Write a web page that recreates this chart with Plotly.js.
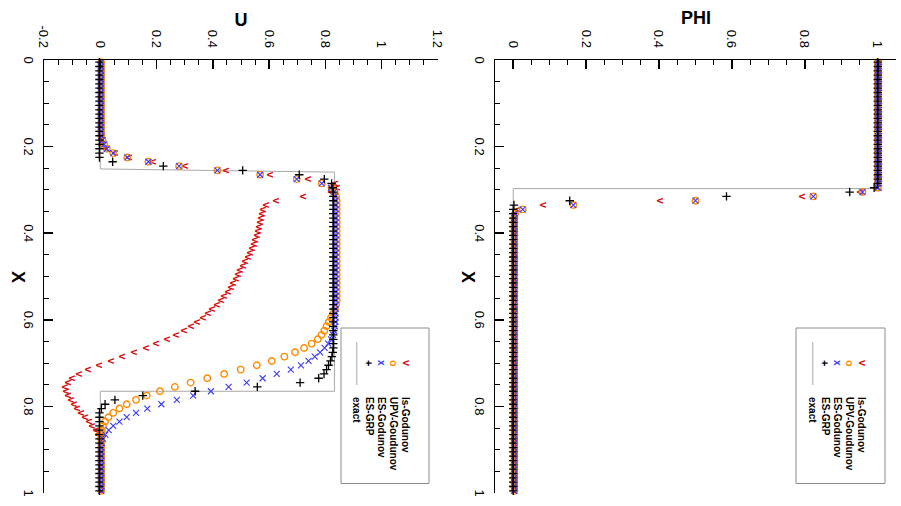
<!DOCTYPE html>
<html><head><meta charset="utf-8">
<script src="https://cdn.plot.ly/plotly-3.0.1.min.js"></script>
<style>
html,body{margin:0;padding:0;width:901px;height:506px;overflow:hidden;background:#fff;}
#wrap{position:absolute;left:0;top:0;width:506px;height:901px;transform-origin:0 0;transform:translate(901px,0) rotate(90deg);}
#chart{width:506px;height:901px;}
</style></head><body>
<div id="wrap"><div id="chart"></div></div>
<script>
// ---------- data ----------
const xCells = [0.005,0.015,0.025,0.035,0.045,0.055,0.065,0.075,0.085,0.095,
0.105,0.115,0.125,0.135,0.145,0.155,0.165,0.175,0.185,0.195,
0.205,0.215,0.225,0.235,0.245,0.255,0.265,0.275,0.285,0.295,
0.305,0.315,0.325,0.335,0.345,0.355,0.365,0.375,0.385,0.395,
0.405,0.415,0.425,0.435,0.445,0.455,0.465,0.475,0.485,0.495,
0.505,0.515,0.525,0.535,0.545,0.555,0.565,0.575,0.585,0.595,
0.605,0.615,0.625,0.635,0.645,0.655,0.665,0.675,0.685,0.695,
0.705,0.715,0.725,0.735,0.745,0.755,0.765,0.775,0.785,0.795,
0.805,0.815,0.825,0.835,0.845,0.855,0.865,0.875,0.885,0.895,
0.905,0.915,0.925,0.935,0.945,0.955,0.965,0.975,0.985,0.995];

const seriesNames = ["ls-Godunov","UPV-Goudunov","ES-Godunov","ES-GRP","exact"];

// PHI panel
const phiLs = [1,1,1,1,1,1,1,1,1,1, 1,1,1,1,1,1,1,1,1,1, 1,1,1,1,1,1,1,1,1,1,
0.95,0.79,0.40,0.08,0.01,0,0,0,0,0, 0,0,0,0,0,0,0,0,0,0, 0,0,0,0,0,0,0,0,0,0,
0,0,0,0,0,0,0,0,0,0, 0,0,0,0,0,0,0,0,0,0, 0,0,0,0,0,0,0,0,0,0, 0,0,0,0,0,0,0,0,0,0];
const phiUpv = [1,1,1,1,1,1,1,1,1,1, 1,1,1,1,1,1,1,1,1,1, 1,1,1,1,1,1,1,1,1,1,
0.958,0.823,0.50,0.165,0.026,0.005,0.003,0.003,0.003,0.003,
0.003,0.003,0.003,0.003,0.003,0.003,0.003,0.003,0.003,0.003,
0.003,0.003,0.003,0.003,0.003,0.003,0.003,0.003,0.003,0.003,
0.003,0.003,0.003,0.003,0.003,0.003,0.003,0.003,0.003,0.003,
0.003,0.003,0.003,0.003,0.003,0.003,0.003,0.003,0.003,0.003,
0.003,0.003,0.003,0.003,0.003,0.003,0.003,0.003,0.003,0.003,
0.003,0.003,0.003,0.003,0.003,0.003,0.003,0.003,0.003,0.003];
const phiEs = [1,1,1,1,1,1,1,1,1,1, 1,1,1,1,1,1,1,1,1,1, 1,1,1,1,1,1,1,1,1,1,
0.958,0.823,0.50,0.165,0.026,0.005,0.003,0.003,0.003,0.003,
0.003,0.003,0.003,0.003,0.003,0.003,0.003,0.003,0.003,0.003,
0.003,0.003,0.003,0.003,0.003,0.003,0.003,0.003,0.003,0.003,
0.003,0.003,0.003,0.003,0.003,0.003,0.003,0.003,0.003,0.003,
0.003,0.003,0.003,0.003,0.003,0.003,0.003,0.003,0.003,0.003,
0.003,0.003,0.003,0.003,0.003,0.003,0.003,0.003,0.003,0.003,
0.003,0.003,0.003,0.003,0.003,0.003,0.003,0.003,0.003,0.003];
const phiGrp = [1,1,1,1,1,1,1,1,1,1, 1,1,1,1,1,1,1,1,1,1, 1,1,1,1,1,1,1,1,1,0.99,
0.923,0.585,0.155,0.002,0,0,0,0,0,0, 0,0,0,0,0,0,0,0,0,0, 0,0,0,0,0,0,0,0,0,0,
0,0,0,0,0,0,0,0,0,0, 0,0,0,0,0,0,0,0,0,0, 0,0,0,0,0,0,0,0,0,0, 0,0,0,0,0,0,0,0,0,0];
const phiExactX = [0,0.297,0.297,1];
const phiExactY = [1,1,0,0];

// U panel
const uLs = [0,0,0,0,0,0,0,0,0,0, 0,0,0,0,0,0,0,0,0,0,
0.022,0.048,0.100,0.184,0.297,0.443,0.600,0.737,0.830,0.840,
0.816,0.719,0.621,0.585,0.576,0.572,0.569,0.566,0.562,0.557,
0.553,0.548,0.542,0.535,0.528,0.521,0.513,0.504,0.495,0.487,
0.478,0.469,0.460,0.450,0.438,0.425,0.411,0.396,0.380,0.362,
0.342,0.320,0.295,0.266,0.233,0.197,0.158,0.117,0.075,0.034,
-0.006,-0.045,-0.078,-0.103,-0.118,-0.127,-0.125,-0.118,-0.107,-0.096,
-0.084,-0.071,-0.058,-0.044,-0.031,-0.019,-0.010,-0.004,-0.001,0,
0,0,0,0,0,0,0,0,0,0];
const uUpv = [0.003,0.003,0.003,0.003,0.003,0.003,0.003,0.003,0.003,0.003,
0.003,0.003,0.003,0.003,0.003,0.003,0.003,0.004,0.008,0.014,
0.023,0.046,0.096,0.171,0.280,0.416,0.568,0.698,0.787,0.822,
0.833,0.838,0.840,0.840,0.840,0.840,0.840,0.840,0.840,0.840,
0.840,0.840,0.840,0.840,0.840,0.840,0.840,0.840,0.840,0.840,
0.840,0.840,0.840,0.840,0.840,0.840,0.838,0.834,0.828,0.820,
0.812,0.804,0.796,0.786,0.773,0.751,0.724,0.692,0.654,0.609,
0.556,0.499,0.440,0.380,0.321,0.265,0.212,0.165,0.127,0.094,
0.068,0.046,0.029,0.017,0.009,0.005,0.003,0.003,0.003,0.003,
0.003,0.003,0.003,0.003,0.003,0.003,0.003,0.003,0.003,0.003];
const uEs = [0.003,0.003,0.003,0.003,0.003,0.003,0.003,0.003,0.003,0.003,
0.003,0.003,0.003,0.003,0.003,0.003,0.003,0.004,0.008,0.014,
0.023,0.046,0.096,0.171,0.280,0.416,0.568,0.698,0.787,0.820,
0.830,0.834,0.836,0.836,0.836,0.836,0.836,0.836,0.836,0.836,
0.836,0.836,0.836,0.836,0.836,0.836,0.836,0.836,0.836,0.836,
0.836,0.836,0.836,0.836,0.836,0.836,0.836,0.836,0.836,0.836,
0.836,0.834,0.831,0.827,0.820,0.810,0.797,0.781,0.762,0.740,
0.713,0.677,0.627,0.577,0.520,0.456,0.393,0.330,0.272,0.217,
0.167,0.127,0.094,0.068,0.046,0.030,0.018,0.010,0.006,0.004,
0.004,0.004,0.004,0.004,0.004,0.004,0.004,0.004,0.004,0.004];
const uGrp = [-0.003,-0.003,-0.003,-0.003,-0.003,-0.003,-0.003,-0.003,-0.003,-0.003,
-0.003,-0.003,-0.003,-0.003,-0.003,-0.003,-0.003,-0.003,-0.003,-0.003,
-0.003,-0.003,-0.003,0.044,0.224,0.506,0.707,0.796,0.822,0.826,
0.828,0.828,0.828,0.828,0.828,0.828,0.828,0.828,0.828,0.828,
0.828,0.828,0.828,0.828,0.828,0.828,0.828,0.828,0.828,0.828,
0.828,0.828,0.828,0.828,0.828,0.828,0.828,0.828,0.828,0.828,
0.828,0.828,0.828,0.828,0.828,0.828,0.828,0.826,0.823,0.818,
0.811,0.804,0.795,0.776,0.710,0.558,0.337,0.151,0.052,0.017,
0.004,-0.003,-0.003,-0.003,-0.003,-0.003,-0.003,-0.003,-0.003,-0.003,
-0.003,-0.003,-0.003,-0.003,-0.003,-0.003,-0.003,-0.003,-0.003,-0.003];
const uExactX = [0,0.2516,0.259,0.765,0.765,1];
const uExactY = [0,0,0.832,0.832,0,0];

// tick labels
const xTickVals = [0,0.2,0.4,0.6,0.8,1];
const xTickText = ["0","0.2","0.4","0.6","0.8","1"];
const phiTickVals = [0,0.2,0.4,0.6,0.8,1];
const phiTickText = ["0","0.2","0.4","0.6","0.8","1"];
const uTickVals = [-0.2,0,0.2,0.4,0.6,0.8,1,1.2];
const uTickText = ["-0.2","0","0.2","0.4","0.6","0.8","1","1.2"];
const axisTitles = {phi: "PHI", u: "U", x: "X"};

// ---------- styling ----------
const FONT = "Liberation Sans, Arial, Helvetica, sans-serif";
const C_RED = "#d81010", C_ORA = "#ff8a00", C_BLU = "#3a3aff", C_BLK = "#000000", C_EX = "#a8a8a8";

function panelTraces(xa, ya, ls, upv, es, grp, exX, exY) {
  return [
    {x: exX, y: exY, xaxis: xa, yaxis: ya, mode: "lines", name: seriesNames[4],
     line: {color: C_EX, width: 1}, hoverinfo: "skip", showlegend: false},
    {x: xCells, y: ls, xaxis: xa, yaxis: ya, mode: "text", name: seriesNames[0], text: "V",
     textposition: "middle center", textfont: {family: FONT, size: 9, color: C_RED, weight: "bold"},
     hoverinfo: "skip", showlegend: false, cliponaxis: false},
    {x: xCells, y: upv, xaxis: xa, yaxis: ya, mode: "markers", name: seriesNames[1],
     marker: {symbol: "circle-open", size: 6.5, color: C_ORA, line: {width: 1.4, color: C_ORA}},
     hoverinfo: "skip", showlegend: false, cliponaxis: false},
    {x: xCells, y: es, xaxis: xa, yaxis: ya, mode: "markers", name: seriesNames[2],
     marker: {symbol: "x-thin-open", size: 6, color: C_BLU, line: {width: 1.1, color: C_BLU}},
     hoverinfo: "skip", showlegend: false, cliponaxis: false},
    {x: xCells, y: grp, xaxis: xa, yaxis: ya, mode: "markers", name: seriesNames[3],
     marker: {symbol: "cross-thin-open", size: 6, color: C_BLK, line: {width: 1.3, color: C_BLK}},
     hoverinfo: "skip", showlegend: false, cliponaxis: false}
  ];
}

const data = [].concat(
  panelTraces("x", "y", phiLs, phiUpv, phiEs, phiGrp, phiExactX, phiExactY),
  panelTraces("x2", "y2", uLs, uUpv, uEs, uGrp, uExactX, uExactY)
);

// layout geometry (pixels in the unrotated 506x901 frame)
const W = 506, H = 901, L = 60, R = 13, T = 5, B = 44;
const pw = W - L - R, ph = H - T - B;
function px(u) { return (u - L) / pw; }
function py(v) { return (H - B - v) / ph; }

const tickFont = {family: FONT, size: 13, color: "#000"};
const titleFont = {family: FONT, size: 18, color: "#000", weight: "bold"};
function xAxis(anchor) {
  return {anchor: anchor, domain: [0, 1], range: [0, 1], tickmode: "array",
    tickvals: xTickVals, ticktext: xTickText, ticks: "inside", ticklen: 9, tickwidth: 1.5,
    tickcolor: "#000", showline: true, linecolor: "#000", linewidth: 1.5, showgrid: false,
    zeroline: false, tickfont: tickFont, ticklabelstandoff: 3,
    minor: {ticks: "inside", ticklen: 5, tickwidth: 1, tickcolor: "#000", dtick: 0.05, tick0: 0, showgrid: false}};
}
function yAxis(anchor, dom, rng, tv, tt) {
  return {anchor: anchor, domain: dom, range: rng, tickmode: "array",
    tickvals: tv, ticktext: tt, ticks: "inside", ticklen: 9, tickwidth: 1.5,
    tickcolor: "#000", showline: true, linecolor: "#000", linewidth: 1.5, showgrid: false,
    zeroline: false, tickfont: tickFont, ticklabelstandoff: 8,
    minor: {ticks: "inside", ticklen: 5, tickwidth: 1, tickcolor: "#000", dtick: 0.05, tick0: 0, showgrid: false}};
}

// custom legend + axis titles (pixel layout in the unrotated frame)
const shapes = [], annotations = [];
const legendSymbols = [
  {t: "V", c: C_RED, s: 9},
  {t: "o", c: C_ORA, s: 11},
  {t: "x", c: C_BLU, s: 10},
  {t: "+", c: C_BLK, s: 11}
];
function addLegend(top, bottom) {
  shapes.push({type: "rect", xref: "paper", yref: "paper", x0: px(328), x1: px(483.5),
    y0: py(bottom), y1: py(top), line: {color: "#8c8c8c", width: 1}, fillcolor: "rgba(0,0,0,0)"});
  for (let k = 0; k < 5; k++) {
    const v = top + 23 + 12.3 * k;
    if (k < 4) {
      annotations.push({xref: "paper", yref: "paper", x: px(363), y: py(v), xanchor: "center", yanchor: "middle",
        showarrow: false, text: legendSymbols[k].t,
        font: {family: FONT, size: legendSymbols[k].s, color: legendSymbols[k].c, weight: "bold"}});
    } else {
      shapes.push({type: "line", xref: "paper", yref: "paper", x0: px(342), x1: px(385),
        y0: py(v), y1: py(v), line: {color: C_EX, width: 1}});
    }
    annotations.push({xref: "paper", yref: "paper", x: px(395), y: py(v), xanchor: "left", yanchor: "middle",
      showarrow: false, text: seriesNames[k], font: {family: FONT, size: 10, color: "#000", weight: "bold"}});
  }
}
addLegend(16, 105);
addLegend(472, 560);
[433, 882.5].forEach(function (v) {
  annotations.push({xref: "paper", yref: "paper", x: px(276.5), y: py(v), xanchor: "center", yanchor: "middle",
    showarrow: false, text: axisTitles.x, font: titleFont});
});
annotations.push({xref: "paper", yref: "paper", x: px(17.5), y: py(205.5), xanchor: "center", yanchor: "middle",
  showarrow: false, textangle: -90, text: axisTitles.phi, font: titleFont});
annotations.push({xref: "paper", yref: "paper", x: px(19.5), y: py(660), xanchor: "center", yanchor: "middle",
  showarrow: false, textangle: -90, text: axisTitles.u, font: titleFont});

const layout = {
  width: W, height: H, margin: {l: L, r: R, t: T, b: B, pad: 0},
  paper_bgcolor: "#fff", plot_bgcolor: "#fff", showlegend: false,
  font: {family: FONT, color: "#000"},
  xaxis: xAxis("y"),
  yaxis: yAxis("x", [py(406), 1], [-0.05, 1.05], phiTickVals, phiTickText),
  xaxis2: xAxis("y2"),
  yaxis2: yAxis("x2", [0, py(463)], [-0.2, 1.2], uTickVals, uTickText),
  shapes: shapes, annotations: annotations
};

Plotly.newPlot("chart", data, layout, {displayModeBar: false, staticPlot: true});
</script>
</body></html>
